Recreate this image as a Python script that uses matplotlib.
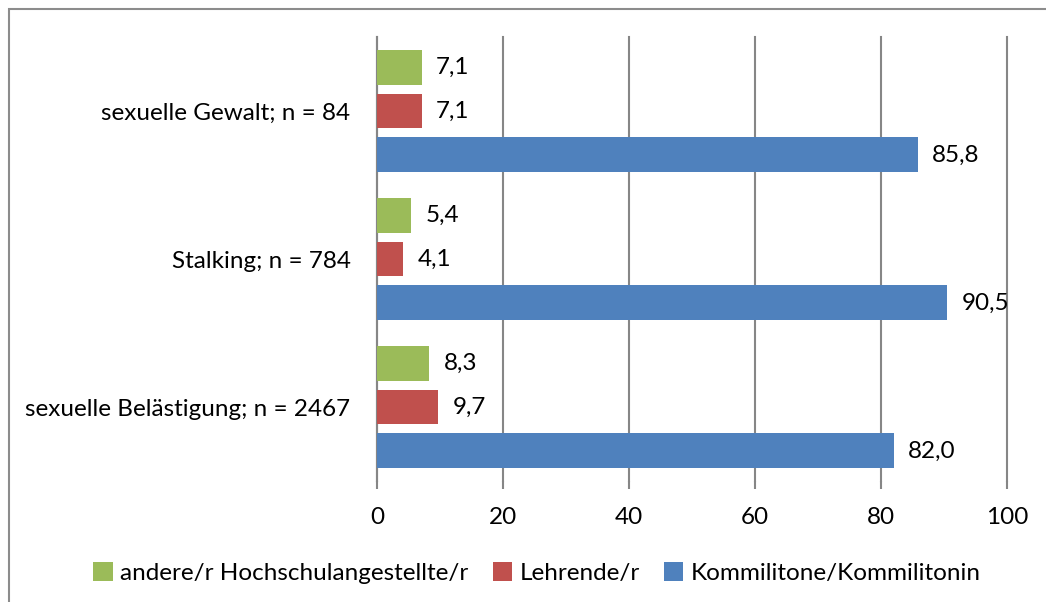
import numpy as np
import matplotlib
matplotlib.use("Agg")
import matplotlib.pyplot as plt
from matplotlib.patches import Rectangle

plt.rcParams['font.family'] = ['Lato', 'DejaVu Sans']

categories = ['sexuelle Belästigung; n = 2467', 'Stalking; n = 784', 'sexuelle Gewalt; n = 84']
series = ['andere/r Hochschulangestellte/r', 'Lehrende/r', 'Kommilitone/Kommilitonin']
andere = [8.3, 5.4, 7.1]
lehrende = [9.7, 4.1, 7.1]
kommilitonen = [82.0, 90.5, 85.8]
colors = ['#9BBB59', '#C0504D', '#4F81BD']

W, H = 1046, 602
fs = 17.5
fig = plt.figure(figsize=(W / 100, H / 100), dpi=100)
ax = fig.add_axes([377 / W, (H - 481) / H, 630 / W, 444 / H])

# frame around the chart (open at right/bottom, as in the original crop)
fig.patches.append(Rectangle((8.5 / W, -0.1), 1.2, (H - 9) / H + 0.1, transform=fig.transFigure,
                             fill=False, edgecolor='#8c8c8c', linewidth=1.5, zorder=0))

y = np.arange(len(categories))
pitch = 0.297
height = 0.236
values = [andere, lehrende, kommilitonen]
offsets = [pitch, 0, -pitch]
for vals, off, col, name in zip(values, offsets, colors, series):
    bars = ax.barh(y + off, vals, height=height, color=col, label=name, zorder=3)
    for b, v in zip(bars, vals):
        ax.text(v + 2.3, b.get_y() + b.get_height() / 2, f'{v:.1f}'.replace('.', ','),
                va='center', ha='left', fontsize=fs)

ax.set_xlim(0, 100)
ax.set_ylim(-0.5, 2.5)
ax.set_xticks(range(0, 101, 20))
ax.set_yticks(y)
ax.set_yticklabels(categories)
ax.xaxis.grid(True, color='#868686', linewidth=1.5)
for gl in ax.get_xgridlines():
    gl.set_clip_on(False)
ax.set_axisbelow(True)
for s in ['top', 'right', 'bottom']:
    ax.spines[s].set_visible(False)
ax.spines['left'].set_color('#868686')
ax.spines['left'].set_linewidth(1.5)
ax.tick_params(axis='x', length=6, width=1.5, color='#868686', labelsize=fs, pad=13)
ax.tick_params(axis='y', length=0, labelsize=fs, pad=19)

fig.legend(loc='center', bbox_to_anchor=(537 / W, (H - 573) / H), ncol=3, frameon=False,
           fontsize=fs, handlelength=0.8, handleheight=0.8, handletextpad=0.3, columnspacing=1.0)

fig.savefig('out.png', dpi=100)
